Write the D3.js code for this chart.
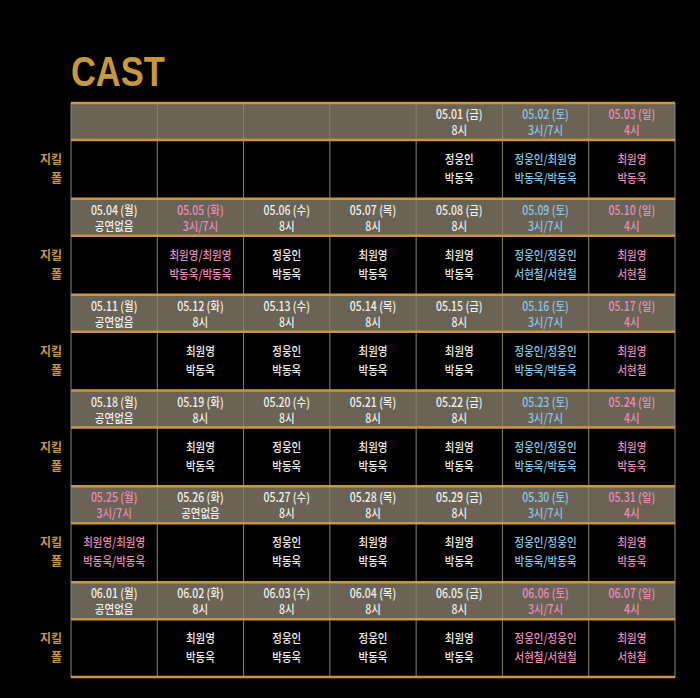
<!DOCTYPE html>
<html><head><meta charset="utf-8">
<script src="https://cdn.jsdelivr.net/npm/d3@7"></script>
<style>body{margin:0;background:#000}svg{display:block}</style>
</head><body><div id="app"></div>
<script>
// one entry per week, 7 days (월..일), "" = no cell content
const dates = [
  ["", "", "", "", "05.01 (금)", "05.02 (토)", "05.03 (일)"],
  ["05.04 (월)", "05.05 (화)", "05.06 (수)", "05.07 (목)", "05.08 (금)", "05.09 (토)", "05.10 (일)"],
  ["05.11 (월)", "05.12 (화)", "05.13 (수)", "05.14 (목)", "05.15 (금)", "05.16 (토)", "05.17 (일)"],
  ["05.18 (월)", "05.19 (화)", "05.20 (수)", "05.21 (목)", "05.22 (금)", "05.23 (토)", "05.24 (일)"],
  ["05.25 (월)", "05.26 (화)", "05.27 (수)", "05.28 (목)", "05.29 (금)", "05.30 (토)", "05.31 (일)"],
  ["06.01 (월)", "06.02 (화)", "06.03 (수)", "06.04 (목)", "06.05 (금)", "06.06 (토)", "06.07 (일)"]
];
const times = [
  ["", "", "", "", "8시", "3시/7시", "4시"],
  ["공연없음", "3시/7시", "8시", "8시", "8시", "3시/7시", "4시"],
  ["공연없음", "8시", "8시", "8시", "8시", "3시/7시", "4시"],
  ["공연없음", "8시", "8시", "8시", "8시", "3시/7시", "4시"],
  ["3시/7시", "공연없음", "8시", "8시", "8시", "3시/7시", "4시"],
  ["공연없음", "8시", "8시", "8시", "8시", "3시/7시", "4시"]
];
const jekyll = [
  ["", "", "", "", "정웅인", "정웅인/최원영", "최원영"],
  ["", "최원영/최원영", "정웅인", "최원영", "최원영", "정웅인/정웅인", "최원영"],
  ["", "최원영", "정웅인", "최원영", "최원영", "정웅인/정웅인", "최원영"],
  ["", "최원영", "정웅인", "최원영", "최원영", "정웅인/정웅인", "최원영"],
  ["최원영/최원영", "", "정웅인", "최원영", "최원영", "정웅인/정웅인", "최원영"],
  ["", "최원영", "정웅인", "정웅인", "최원영", "정웅인/정웅인", "최원영"]
];
const hyde = [
  ["", "", "", "", "박동욱", "박동욱/박동욱", "박동욱"],
  ["", "박동욱/박동욱", "박동욱", "박동욱", "박동욱", "서현철/서현철", "서현철"],
  ["", "박동욱", "박동욱", "박동욱", "박동욱", "박동욱/박동욱", "서현철"],
  ["", "박동욱", "박동욱", "박동욱", "박동욱", "박동욱/박동욱", "박동욱"],
  ["박동욱/박동욱", "", "박동욱", "박동욱", "박동욱", "박동욱/박동욱", "박동욱"],
  ["", "박동욱", "박동욱", "박동욱", "박동욱", "서현철/서현철", "서현철"]
];
// w = weekday, b = saturday, p = sunday / holiday
const tones = [
  "wwwwwbp", "wpwwwbp", "wwwwwbp", "wwwwwbp", "pwwwwbp", "wwwwwpp"
];
const roleLabels = ["지킬", "폴"];

const W = 700, H = 698;
const gold = "#c9973f", headBg = "#6b6356", grid = "#8c8272";
const toneColor = {w: "#f2f0ec", b: "#86c6e8", p: "#e98db8"};
const font = "'Noto Sans CJK KR', sans-serif";

const svg = d3.select("#app").append("svg").attr("width", W).attr("height", H);
svg.append("rect").attr("width", W).attr("height", H).attr("fill", "#000");

svg.append("text").text("CAST")
  .attr("transform", "translate(71,86) scale(0.82,1)")
  .attr("fill", gold).attr("font-family", "'Liberation Sans', sans-serif")
  .attr("font-weight", 700).attr("font-size", 42);

const x = d3.scaleBand().domain(d3.range(7)).range([71, 675]);
const y = d3.scaleBand().domain(d3.range(dates.length)).range([103, 678]);
const headH = 37;

const week = svg.selectAll("g.week").data(d3.range(dates.length)).join("g")
  .attr("class", "week").attr("transform", w => `translate(0,${y(w)})`);

week.append("rect").attr("x", x.range()[0]).attr("width", x.range()[1] - x.range()[0])
  .attr("height", headH).attr("fill", headBg);

// vertical grid
week.selectAll("line.v").data(d3.range(8)).join("line").attr("class", "v")
  .attr("x1", i => i < 7 ? x(i) : x.range()[1]).attr("x2", i => i < 7 ? x(i) : x.range()[1])
  .attr("y1", 0).attr("y2", y.bandwidth()).attr("stroke", grid).attr("stroke-width", 1);

week.selectAll("line.h").data([0, headH]).join("line").attr("class", "h")
  .attr("x1", x.range()[0]).attr("x2", x.range()[1]).attr("y1", d => d).attr("y2", d => d)
  .attr("stroke", gold).attr("stroke-width", 2.5);

week.selectAll("text.role").data(roleLabels).join("text").attr("class", "role")
  .attr("x", 62).attr("y", (d, i) => headH + 24 + i * 19).attr("text-anchor", "end")
  .attr("fill", gold).attr("font-family", font).attr("font-weight", 700).attr("font-size", 12)
  .text(d => d);

function label(g, yy, str, fill) {
  g.append("text").attr("transform", `translate(0,${yy}) scale(0.84,1)`)
    .attr("text-anchor", "middle").attr("fill", fill).attr("font-family", font)
    .attr("font-weight", 500).attr("font-size", 12.5).text(str);
}

week.each(function(w) {
  const g = d3.select(this);
  d3.range(7).forEach(d => {
    const c = g.append("g").attr("transform", `translate(${x(d) + x.bandwidth() / 2},0)`);
    const col = toneColor[tones[w][d]];
    label(c, 16, dates[w][d], col);
    label(c, 32, times[w][d], col);
    label(c, headH + 24, jekyll[w][d], col);
    label(c, headH + 43, hyde[w][d], col);
  });
});

svg.append("line").attr("x1", 71).attr("x2", 675).attr("y1", 677).attr("y2", 677)
  .attr("stroke", gold).attr("stroke-width", 2.5);
</script></body></html>
